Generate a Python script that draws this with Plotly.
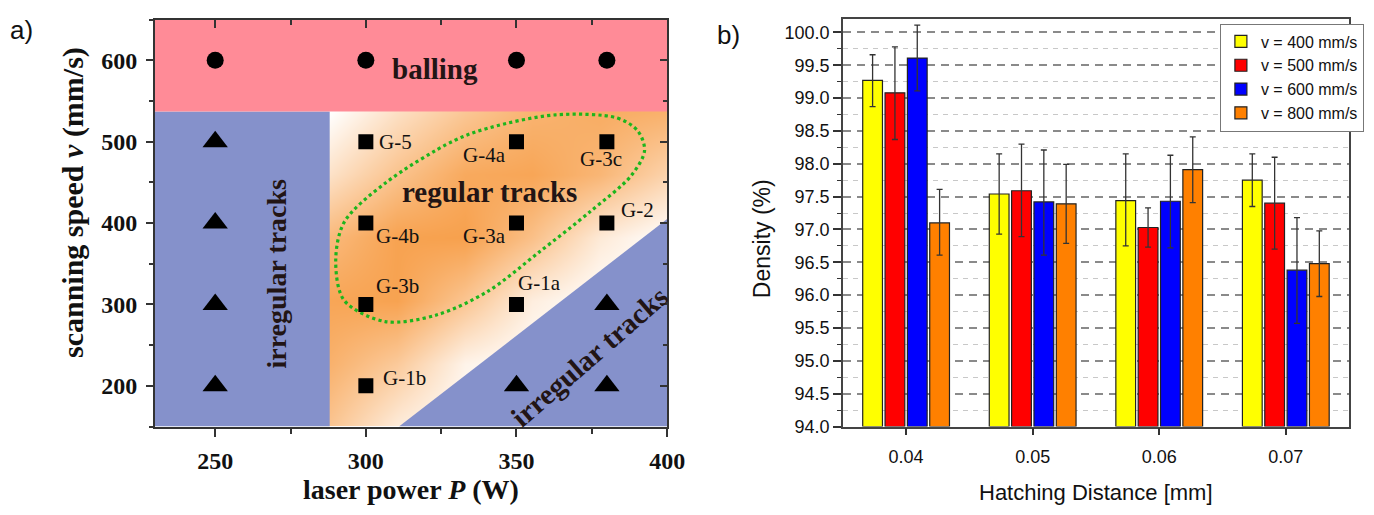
import plotly.graph_objects as go

# ---------------- Panel a data ----------------
balling_power = [250, 300, 350, 380]
balling_speed = [600, 600, 600, 600]

irregular_power = [250, 250, 250, 250, 350, 380, 380]
irregular_speed = [200, 300, 400, 500, 200, 200, 300]

regular_power = [300, 350, 380, 300, 350, 380, 300, 350, 300]
regular_speed = [500, 500, 500, 400, 400, 400, 300, 300, 200]
regular_labels = ["G-5", "G-4a", "G-3c", "G-4b", "G-3a", "G-2", "G-3b", "G-1a", "G-1b"]

# process-window regions
pink_x = [230, 400, 400, 230]
pink_y = [537, 537, 650, 650]
blue_left_x = [230, 288, 288, 230]
blue_left_y = [150, 150, 537, 537]
blue_tri_x = [311, 400, 400]
blue_tri_y = [150, 405, 150]

# orange shading intensity of the regular-track window (rows bottom->top)
shade_x = [288, 310.4, 332.8, 355.2, 377.6, 400]
shade_y = [150, 227.4, 304.8, 382.2, 459.6, 537]
shade_z = [
    [0.60, 0.20, 0.00, 0.00, 0.00, 0.00],
    [0.80, 0.55, 0.12, 0.00, 0.00, 0.00],
    [0.92, 0.95, 0.60, 0.18, 0.00, 0.00],
    [0.72, 0.95, 0.97, 0.65, 0.22, 0.00],
    [0.30, 0.62, 0.88, 0.92, 0.75, 0.45],
    [0.00, 0.32, 0.58, 0.78, 0.85, 0.80],
]

# green dotted outline
outline_x = [363, 383.5, 390.3, 392.5, 388, 374.4, 357.4, 340.4, 323.4, 306.4,
             292.8, 290, 292.8, 306.4, 329.1, 340.9, 363]
outline_y = [533, 529, 513, 489, 458, 414, 364, 316, 287, 279,
             305, 353, 401, 449, 501, 517, 533]

x_ticks_a = [250, 300, 350, 400]
y_ticks_a = [200, 300, 400, 500, 600]

# ---------------- Panel b data ----------------
hatch = [0.04, 0.05, 0.06, 0.07]
hatch_labels = ["0.04", "0.05", "0.06", "0.07"]
series_names = ["v = 400 mm/s", "v = 500 mm/s", "v = 600 mm/s", "v = 800 mm/s"]
density_400 = [99.27, 97.54, 97.44, 97.75]
density_500 = [99.08, 97.59, 97.03, 97.40]
density_600 = [99.61, 97.42, 97.43, 96.38]
density_800 = [97.10, 97.39, 97.91, 96.48]
err_up_400 = [0.39, 0.61, 0.71, 0.40]
err_dn_400 = [0.40, 0.61, 0.69, 0.40]
err_up_500 = [0.70, 0.71, 0.30, 0.70]
err_dn_500 = [0.71, 0.70, 0.30, 0.70]
err_up_600 = [0.50, 0.79, 0.70, 0.80]
err_dn_600 = [0.50, 0.81, 0.71, 0.81]
err_up_800 = [0.51, 0.60, 0.50, 0.50]
err_dn_800 = [0.49, 0.60, 0.50, 0.50]
bar_colors = ["#FFFF00", "#FF0000", "#0000FF", "#FF8000"]
y_ticks_b = [94.0, 94.5, 95.0, 95.5, 96.0, 96.5, 97.0, 97.5, 98.0, 98.5, 99.0, 99.5, 100.0]

# ---------------- Figure ----------------
W, H = 1374, 515
fig = go.Figure()

SERIF = "Liberation Serif"
SANS = "Liberation Sans"
BLUE_REG = "#8591CB"
PINK_REG = "#FF8B97"
TXT = "#221515"

fig.add_trace(go.Heatmap(x=shade_x, y=shade_y, z=shade_z, zmin=0, zmax=1, zsmooth="best",
                         colorscale=[[0, "#FFFFFF"], [1, "#F79E48"]], showscale=False,
                         hoverinfo="skip", xaxis="x", yaxis="y"))
for xs, ys, col in [(blue_left_x, blue_left_y, BLUE_REG), (blue_tri_x, blue_tri_y, BLUE_REG),
                    (pink_x, pink_y, PINK_REG)]:
    fig.add_trace(go.Scatter(x=xs, y=ys, fill="toself", fillcolor=col, mode="none",
                             showlegend=False, hoverinfo="skip", xaxis="x", yaxis="y"))
fig.add_trace(go.Scatter(x=outline_x, y=outline_y, mode="lines",
                         line=dict(color="#1DB51D", width=3.2, dash="dot", shape="spline", smoothing=0.9),
                         showlegend=False, hoverinfo="skip", xaxis="x", yaxis="y"))
fig.add_trace(go.Scatter(x=balling_power, y=balling_speed, mode="markers",
                         marker=dict(symbol="circle", size=17, color="black"),
                         showlegend=False, xaxis="x", yaxis="y"))
fig.add_trace(go.Scatter(x=irregular_power, y=irregular_speed, mode="markers",
                         marker=dict(symbol="triangle-up", size=22, color="black"),
                         showlegend=False, xaxis="x", yaxis="y"))
fig.add_trace(go.Scatter(x=regular_power, y=regular_speed, mode="markers",
                         marker=dict(symbol="square", size=15, color="black"),
                         showlegend=False, xaxis="x", yaxis="y"))
# dummy traces for mirrored inner-tick axes
fig.add_trace(go.Scatter(x=[None], y=[None], xaxis="x3", yaxis="y", showlegend=False, hoverinfo="skip"))
fig.add_trace(go.Scatter(x=[None], y=[None], xaxis="x", yaxis="y3", showlegend=False, hoverinfo="skip"))

# Panel b bars
for name, vals, eu, ed, col in [
    (series_names[0], density_400, err_up_400, err_dn_400, bar_colors[0]),
    (series_names[1], density_500, err_up_500, err_dn_500, bar_colors[1]),
    (series_names[2], density_600, err_up_600, err_dn_600, bar_colors[2]),
    (series_names[3], density_800, err_up_800, err_dn_800, bar_colors[3]),
]:
    fig.add_trace(go.Bar(x=hatch, y=[v - 94.0 for v in vals], base=94.0, name=name,
                         marker=dict(color=col, line=dict(color="#222", width=1.2)),
                         error_y=dict(type="data", array=eu, arrayminus=ed, color="#333",
                                      thickness=1.3, width=3),
                         xaxis="x2", yaxis="y2"))

dom_ax = [157 / W, 676 / W]
dom_ay = [(H - 435) / H, (H - 20) / H]
dom_bx = [854 / W, 1367 / W]
dom_by = [(H - 435) / H, (H - 19) / H]

tick_font_a = dict(family=SERIF, size=24, color="#111", weight="bold")
tick_font_b = dict(family=SANS, size=18, color="#111")

fig.update_layout(
    width=W, height=H, margin=dict(l=0, r=0, t=0, b=0),
    paper_bgcolor="white", plot_bgcolor="white",
    showlegend=True, barmode="group", bargap=0.294, bargroupgap=0.116,
    hovermode=False,
    xaxis=dict(domain=dom_ax, anchor="y", range=[230, 400], tickvals=x_ticks_a,
               ticks="outside", ticklen=8, tickwidth=1.5, tickcolor="#333",
               minor=dict(ticks="outside", ticklen=5, tickwidth=1.5, tickcolor="#333",
                          tick0=225, dtick=50),
               showline=True, linecolor="#333", linewidth=2, showgrid=False, zeroline=False,
               tickfont=tick_font_a, ticklabelstandoff=4),
    yaxis=dict(domain=dom_ay, anchor="x", range=[150, 650], tickvals=y_ticks_a,
               ticks="outside", ticklen=7, tickwidth=1.5, tickcolor="#333",
               minor=dict(ticks="outside", ticklen=4, tickwidth=1.5, tickcolor="#333",
                          tick0=150, dtick=100),
               showline=True, linecolor="#333", linewidth=2, showgrid=False, zeroline=False,
               tickfont=tick_font_a, ticklabelstandoff=4),
    xaxis3=dict(overlaying="x", anchor="y", side="top", range=[230, 400], tickvals=x_ticks_a,
                ticks="inside", ticklen=8, tickwidth=1.5, tickcolor="#333",
                minor=dict(ticks="inside", ticklen=5, tickwidth=1.5, tickcolor="#333",
                           tick0=225, dtick=50),
                showticklabels=False, showline=True, linecolor="#333", linewidth=2,
                showgrid=False, zeroline=False),
    yaxis3=dict(overlaying="y", anchor="x", side="right", range=[150, 650], tickvals=y_ticks_a,
                ticks="inside", ticklen=7, tickwidth=1.5, tickcolor="#333",
                minor=dict(ticks="inside", ticklen=4, tickwidth=1.5, tickcolor="#333",
                           tick0=150, dtick=100),
                showticklabels=False, showline=True, linecolor="#333", linewidth=2,
                showgrid=False, zeroline=False),
    xaxis2=dict(domain=dom_bx, anchor="y2", range=[0.035, 0.075], tickvals=hatch,
                ticktext=hatch_labels, ticks="outside", ticklen=7, tickwidth=1.5, tickcolor="#333",
                showline=True, mirror=True, linecolor="#444", linewidth=1.5,
                showgrid=False, zeroline=False, tickfont=tick_font_b, ticklabelstandoff=6),
    yaxis2=dict(domain=dom_by, anchor="x2", range=[94.0, 100.21], tickvals=y_ticks_b,
                tickformat=".1f", ticks="outside", ticklen=8, tickwidth=1.5, tickcolor="#333",
                showline=True, mirror=True, linecolor="#444", linewidth=1.5,
                showgrid=True, gridcolor="#8a8a8a", gridwidth=1.6, griddash="8px,6px",
                minor=dict(ticks="outside", ticklen=4, tickwidth=1.3, tickcolor="#333",
                           tick0=94.25, dtick=0.5, showgrid=True, gridcolor="#c8c8c8",
                           gridwidth=1, griddash="5px,5px"),
                zeroline=False, tickfont=tick_font_b, ticklabelstandoff=0),
    legend=dict(x=1382 / W, y=1 - 24 / H, xanchor="right", yanchor="top",
                bordercolor="#777", borderwidth=1, bgcolor="white",
                font=dict(family=SANS, size=16, color="#111"), tracegroupgap=0),
)

annots = [
    dict(text="a)", x=22 / W, y=1 - 31 / H, font=dict(family=SANS, size=26, color="#111")),
    dict(text="b)", x=738 / W, y=1 - 36 / H, font=dict(family=SANS, size=26, color="#111")),
    dict(text="laser power <i>P</i> (W)", x=416 / W, y=1 - 499 / H,
         font=dict(family=SERIF, size=28, color="#111", weight="bold")),
    dict(text="scanning speed <i>v</i> (mm/s)", x=74 / W, y=1 - 207 / H, textangle=-90,
         font=dict(family=SERIF, size=30, color="#111", weight="bold")),
    dict(text="Density (%)", x=772 / W, y=1 - 243 / H, textangle=-90,
         font=dict(family=SANS, size=23, color="#111")),
    dict(text="Hatching Distance [mm]", x=1111 / W, y=1 - 502 / H,
         font=dict(family=SANS, size=22, color="#111")),
]
for a in annots:
    fig.add_annotation(xref="paper", yref="paper", showarrow=False,
                       xanchor="center", yanchor="middle", **a)

# point labels, pixel offsets from their squares
label_dx = [30, -32, -6, 32, -32, 31, 32, 23, 39]
label_dy = [0, -13, -17, -13, -13, 13, 18, 21, 8]
for lab, px_, py_, dx, dy in zip(regular_labels, regular_power, regular_speed, label_dx, label_dy):
    fig.add_annotation(xref="x", yref="y", x=px_, y=py_, text=lab, showarrow=False,
                       xshift=dx, yshift=dy, xanchor="center", yanchor="middle",
                       font=dict(family=SERIF, size=21, color="#111"))

region_text = [
    ("balling", 323, 589, 0, 29),
    ("regular tracks", 341, 438, 0, 29),
    ("irregular tracks", 270.5, 338, -90, 28),
    ("irregular tracks", 374, 236, -41, 29),
]
for t, xx, yy, ang, sz in region_text:
    fig.add_annotation(xref="x", yref="y", x=xx, y=yy, text=t, showarrow=False,
                       textangle=ang, font=dict(family=SERIF, size=sz, color=TXT, weight="bold"))

fig.write_html("out.html")
